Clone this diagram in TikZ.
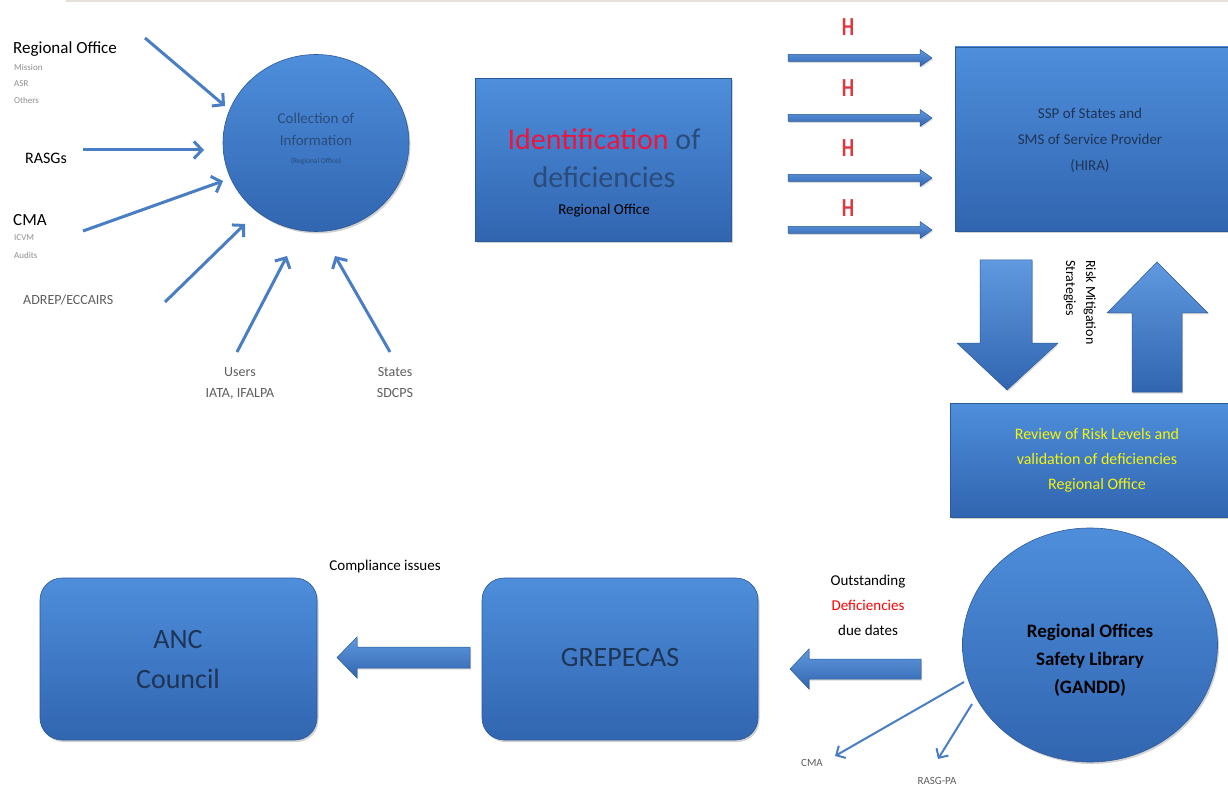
\documentclass[tikz,border=0pt]{standalone}
\usepackage{fontspec}
\setmainfont{Carlito}
\usetikzlibrary{arrows.meta,shadows,shapes.geometric}

\definecolor{boxtop}{HTML}{4E8EDB}
\definecolor{boxbot}{HTML}{3165B0}
\definecolor{boxedge}{HTML}{2C5A98}
\definecolor{linkblue}{HTML}{4A7EC4}
\definecolor{inktext}{HTML}{1E3556}
\definecolor{softtext}{HTML}{2A4C7C}
\definecolor{hred}{HTML}{E0373F}
\definecolor{idred}{HTML}{F0143C}
\definecolor{softgray}{HTML}{8E8E8E}
\definecolor{midgray}{HTML}{5E5E5E}
\definecolor{alertyellow}{HTML}{F4F40C}
\definecolor{rulegray}{HTML}{E4E0DA}

\newcommand{\fs}[1]{\fontsize{#1}{#1}\selectfont}

\tikzset{
  x=1pt, y=-1pt,
  bluefill/.style={top color=boxtop, bottom color=boxbot, draw=boxedge, line width=0.6pt,
    drop shadow={opacity=0.35, shadow xshift=1.5pt, shadow yshift=-2pt}},
  sqbox/.style={bluefill, rectangle, inner sep=0pt},
  rbox/.style={bluefill, rectangle, rounded corners=22pt, inner sep=0pt},
  blob/.style={bluefill, ellipse, inner sep=0pt},
  feed/.style={draw=linkblue, line width=3pt, -{Straight Barb[length=8pt,width=17pt]}},
  thinfeed/.style={draw=linkblue, line width=2pt, -{Straight Barb[length=7pt,width=14pt]}},
  blockarrow/.style={top color=boxtop!90!white, bottom color=boxbot, draw=boxedge, line width=0.5pt,
    drop shadow={opacity=0.3, shadow xshift=1pt, shadow yshift=-1.5pt}},
  plain/.style={inner sep=0pt, align=center},
}

\begin{document}
\begin{tikzpicture}
\useasboundingbox (0,0) rectangle (1228,791);
\fill[white] (0,0) rectangle (1228,791);

% faint rule along the top edge
\draw[rulegray, line width=2pt] (66,1) -- (1228,1);

% ---------- collection of information ----------
\node[blob, minimum width=186pt, minimum height=177pt] (coll) at (316,143) {};
\node[plain, text=softtext, font=\fontsize{15}{22}\selectfont, align=center] (colltxt) at (316,129)
  {Collection of\\Information};
\node[plain, text=softtext, font=\fs{7.5}] (collsub) at (316,161) {(Regional Office)};

% sources feeding the collection
\node[plain, anchor=west, font=\fs{17}] (ro) at (13,49) {Regional Office};
\node[plain, anchor=north west, align=left, text=softgray, font=\fontsize{9}{16.5}\selectfont] (romore) at (14,64) {Mission\\ASR\\Others};
\node[plain, anchor=west, font=\fs{16}] (rasg) at (25,158) {RASGs};
\node[plain, anchor=west, font=\fs{17}] (cma) at (13,220) {CMA};
\node[plain, anchor=north west, align=left, text=softgray, font=\fontsize{9}{18}\selectfont] (cmamore) at (14,234) {ICVM\\Audits};
\node[plain, anchor=west, text=midgray, font=\fs{14}] (adrep) at (23,300) {ADREP/ECCAIRS};
\node[plain, text=midgray, font=\fontsize{14}{21}\selectfont] (users) at (240,383) {Users\\IATA, IFALPA};
\node[plain, text=midgray, font=\fontsize{14}{21}\selectfont] (states) at (395,383) {States\\SDCPS};

\coordinate (f1a) at (145,38);  \coordinate (f1b) at (225,106);
\coordinate (f2a) at (83,150);  \coordinate (f2b) at (204,150);
\coordinate (f3a) at (83,231);  \coordinate (f3b) at (223,181);
\coordinate (f4a) at (165,302); \coordinate (f4b) at (245,224);
\coordinate (f5a) at (237,352); \coordinate (f5b) at (287,256);
\coordinate (f6a) at (390,352); \coordinate (f6b) at (335,256);
\foreach \i in {1,...,6} \draw[feed] (f\i a) -- (f\i b);

% ---------- identification of deficiencies ----------
\node[sqbox, minimum width=256pt, minimum height=163pt] (ident) at (603.5,160) {};
\node[plain, font=\fontsize{30}{38}\selectfont, text=softtext] (identtxt) at (604,158)
  {\textcolor{idred}{Identification} of\\deficiencies};
\node[plain, font=\fs{15}] (identsub) at (604,211) {Regional Office};

% ---------- hazard arrows into the SSP / SMS box ----------
\node[sqbox, minimum width=276pt, minimum height=184pt] (ssp) at (1093,139) {};
\node[plain, text=inktext, font=\fontsize{15}{26}\selectfont] (ssptxt) at (1090,140)
  {SSP of States and\\SMS of Service Provider\\(HIRA)};

\foreach \yy/\hy [count=\k] in {58/27, 118/88, 178/148, 230/208} {
  \node[plain, text=hred, font=\bfseries\fs{26}, xscale=0.75] (h\k) at (848,\hy) {H};
  \coordinate (ha\k) at (788,\yy);
  \coordinate (hb\k) at (932,\yy);
  \path[blockarrow] ([yshift=3.5pt]ha\k) -- ([xshift=-12pt,yshift=3.5pt]hb\k)
    -- ([xshift=-12pt,yshift=8.5pt]hb\k) -- (hb\k) -- ([xshift=-12pt,yshift=-8.5pt]hb\k)
    -- ([xshift=-12pt,yshift=-3.5pt]hb\k) -- ([yshift=-3.5pt]ha\k) -- cycle;
}

% ---------- risk mitigation loop ----------
\path[blockarrow] (980,260) -- (1032,260) -- (1032,343) -- (1058,343) -- (1007,390)
  -- (957,343) -- (980,343) -- cycle;
\path[blockarrow] (1157,262) -- (1208,313) -- (1182,313) -- (1182,392) -- (1132,392)
  -- (1132,313) -- (1107,313) -- cycle;
\node[plain, rotate=-90, anchor=north west, align=left, font=\fontsize{14}{20}\selectfont] (mitig)
  at (1096,260) {Risk Mitigation\\Strategies};

\node[sqbox, minimum width=282pt, minimum height=114pt] (review) at (1091,460) {};
\node[plain, text=alertyellow, font=\fontsize{16}{25}\selectfont] (reviewtxt) at (1097,460)
  {Review of Risk Levels and\\validation of deficiencies\\Regional Office};

% ---------- bottom chain ----------
\node[rbox, minimum width=277pt, minimum height=162pt] (anc) at (178.5,659) {};
\node[plain, text=inktext, font=\fontsize{28}{40}\selectfont] (anctxt) at (178,660) {ANC\\Council};

\node[rbox, minimum width=276pt, minimum height=162pt] (grep) at (620,659) {};
\node[plain, text=inktext, font=\fs{28}] (greptxt) at (620,658) {GREPECAS};

\node[plain, font=\fs{15}] (compl) at (385,566) {Compliance issues};

\node[blob, minimum width=255pt, minimum height=234pt] (lib) at (1090,645) {};
\node[plain, font=\bfseries\fontsize{19}{28}\selectfont] (libtxt) at (1090,660)
  {Regional Offices\\Safety Library\\(GANDD)};

\node[plain, font=\fontsize{15}{25}\selectfont] (outst) at (868,605)
  {Outstanding\\\textcolor{red}{Deficiencies}\\due dates};

% block arrows pointing left
\coordinate (g2a) at (470,657.5); \coordinate (g2b) at (337,657.5);
\path[blockarrow] ([yshift=10.5pt]g2a) -- ([xshift=20pt,yshift=10.5pt]g2b)
  -- ([xshift=20pt,yshift=20.5pt]g2b) -- (g2b) -- ([xshift=20pt,yshift=-20.5pt]g2b)
  -- ([xshift=20pt,yshift=-10.5pt]g2b) -- ([yshift=-10.5pt]g2a) -- cycle;
\coordinate (l2a) at (921,669); \coordinate (l2b) at (790,669);
\path[blockarrow] ([yshift=10pt]l2a) -- ([xshift=19pt,yshift=10pt]l2b)
  -- ([xshift=19pt,yshift=20pt]l2b) -- (l2b) -- ([xshift=19pt,yshift=-20pt]l2b)
  -- ([xshift=19pt,yshift=-10pt]l2b) -- ([yshift=-10pt]l2a) -- cycle;

% library outputs
\node[plain, text=midgray, font=\fs{11}] (cmaout) at (812,763) {CMA};
\node[plain, text=midgray, font=\fs{11}] (rasgout) at (937,781) {RASG-PA};
\coordinate (o1a) at (964,682); \coordinate (o1b) at (835,756);
\coordinate (o2a) at (972,704); \coordinate (o2b) at (938,759);
\draw[thinfeed] (o1a) -- (o1b);
\draw[thinfeed] (o2a) -- (o2b);
\end{tikzpicture}
\end{document}
